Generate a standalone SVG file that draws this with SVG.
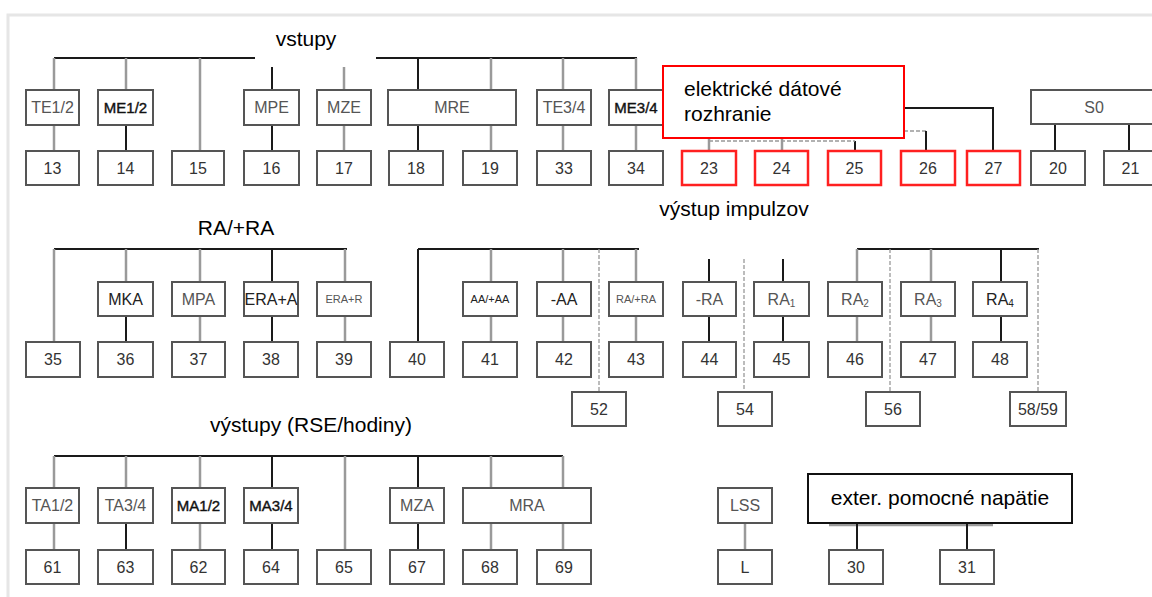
<svg xmlns="http://www.w3.org/2000/svg" width="1152" height="597" viewBox="0 0 1152 597">
<defs>
<style>
.bx{fill:#fff;stroke:#555;stroke-width:2}
.rb{fill:#fff;stroke:#ff2020;stroke-width:2.5}
.lb{font-family:"Liberation Sans",Arial,sans-serif;font-size:16px;fill:#555;text-anchor:middle;dominant-baseline:central}
.dk{fill:#222}
.bd{fill:#111;stroke:#111;stroke-width:0.4;font-size:15px}
.sm{font-size:11px}
.nm{font-family:"Liberation Sans",Arial,sans-serif;font-size:16px;fill:#333;text-anchor:middle;dominant-baseline:central}
.big{font-family:"Liberation Sans",Arial,sans-serif;font-size:21px;fill:#000}
.k{stroke:#1a1a1a;stroke-width:2;fill:none}
.g{stroke:#9a9a9a;stroke-width:2.5;fill:none}
.d{stroke:#999;stroke-width:1.3;stroke-dasharray:4 2;fill:none}
</style>
</defs>
<rect x="0" y="0" width="1152" height="597" fill="#fff"/>
<path d="M8 600 V15 H1160" stroke="#e6e6e6" stroke-width="3" fill="none"/>

<g id="connectors">
<path class="k" d="M54 58 H255 M376 58 H637"/>
<path class="g" d="M54 58 V90 M54 125 V151"/>
<path class="g" d="M126 58 V90"/><path class="k" d="M126 125 V151"/>
<path class="g" d="M200 58 V151"/>
<path class="k" d="M272 67 V90 M272 125 V151"/>
<path class="g" d="M344 67 V90 M344 125 V151"/>
<path class="k" d="M418 58 V90 M418 125 V151"/>
<path class="g" d="M491 58 V90 M491 125 V151"/>
<path class="g" d="M563 58 V90 M563 125 V151"/>
<path class="g" d="M636 58 V90 M636 125 V151"/>
<path class="g" d="M709 136 V151 M782 136 V151"/>
<path class="k" d="M855 141 V151"/>
<path class="d" d="M709 141 H855 M904 131 H926"/>
<path class="k" d="M926 131 V151"/>
<path class="k" d="M904 108 H993 V151"/>
<path class="k" d="M1055 124 V151 M1129 124 V151"/>
<path class="k" d="M54 249 H347"/>
<path class="g" d="M54 249 V342"/>
<path class="g" d="M126 249 V282"/><path class="k" d="M126 316 V342"/>
<path class="g" d="M200 249 V282 M200 316 V342"/>
<path class="k" d="M272 249 V282 M272 316 V342"/>
<path class="g" d="M345 249 V282 M345 316 V342"/>
<path class="k" d="M418 249 H639 M418 249 V342"/>
<path class="g" d="M491 249 V282 M491 316 V342"/>
<path class="g" d="M563 249 V282 M563 316 V342"/>
<path class="g" d="M636 249 V282 M636 316 V342"/>
<path class="k" d="M709 259 V282 M709 316 V342"/>
<path class="k" d="M783 259 V282 M783 316 V342"/>
<path class="k" d="M857 249 H1039"/>
<path class="g" d="M857 249 V282 M857 316 V342"/>
<path class="g" d="M931 249 V282 M931 316 V342"/>
<path class="k" d="M1001 249 V282 M1001 316 V342"/>
<path class="d" d="M599 249 V392 M744 259 V392 M890 249 V392 M1038 249 V392"/>
<path class="k" d="M54 456 H563"/>
<path class="g" d="M54 456 V488 M54 523 V550"/>
<path class="g" d="M126 456 V488"/><path class="k" d="M126 523 V550"/>
<path class="g" d="M200 456 V488 M200 523 V550"/>
<path class="k" d="M272 456 V488 M272 523 V550"/>
<path class="g" d="M345 456 V550"/>
<path class="k" d="M418 456 V488 M418 523 V550"/>
<path class="g" d="M491 456 V488 M491 523 V550"/>
<path class="g" d="M563 456 V488 M563 523 V550"/>
<path class="g" d="M745 523 V550"/>
<path class="g" d="M829 525 H993"/>
<path class="k" d="M857 523 V550 M967 523 V550"/>
</g>

<text class="big" x="306" y="46" text-anchor="middle">vstupy</text>
<text class="big" x="236" y="235" text-anchor="middle" fill="#333">RA/+RA</text>
<text class="big" x="311" y="432" text-anchor="middle">výstupy (RSE/hodiny)</text>

<g id="n-te12"><rect class="bx" x="26" y="90" width="53" height="35"/><text class="lb" x="52.5" y="107.5">TE1/2</text></g>
<g id="n-me12"><rect class="bx" x="98" y="90" width="55" height="35"/><text class="lb bd" x="125.5" y="107.5">ME1/2</text></g>
<g id="n-mpe"><rect class="bx" x="244" y="90" width="55" height="35"/><text class="lb" x="271.5" y="107.5">MPE</text></g>
<g id="n-mze"><rect class="bx" x="317" y="90" width="54" height="35"/><text class="lb" x="344" y="107.5">MZE</text></g>
<g id="n-mre"><rect class="bx" x="388" y="90" width="128" height="35"/><text class="lb" x="452" y="107.5">MRE</text></g>
<g id="n-te34"><rect class="bx" x="537" y="90" width="54" height="35"/><text class="lb" x="564" y="107.5">TE3/4</text></g>
<g id="n-me34"><rect class="bx" x="609" y="90" width="54" height="35"/><text class="lb bd" x="636" y="107.5">ME3/4</text></g>
<g id="n-s0"><rect class="bx" x="1031" y="90" width="127" height="34"/><text class="lb" x="1094" y="107">S0</text></g>
<g id="n-13"><rect class="bx" x="26" y="151" width="53" height="34"/><text class="nm" x="52.5" y="168">13</text></g>
<g id="n-14"><rect class="bx" x="98" y="151" width="55" height="34"/><text class="nm" x="125.5" y="168">14</text></g>
<g id="n-15"><rect class="bx" x="172" y="151" width="52" height="34"/><text class="nm" x="198" y="168">15</text></g>
<g id="n-16"><rect class="bx" x="244" y="151" width="55" height="34"/><text class="nm" x="271.5" y="168">16</text></g>
<g id="n-17"><rect class="bx" x="317" y="151" width="54" height="34"/><text class="nm" x="344" y="168">17</text></g>
<g id="n-18"><rect class="bx" x="389" y="151" width="54" height="34"/><text class="nm" x="416" y="168">18</text></g>
<g id="n-19"><rect class="bx" x="463" y="151" width="54" height="34"/><text class="nm" x="490" y="168">19</text></g>
<g id="n-33"><rect class="bx" x="537" y="151" width="54" height="34"/><text class="nm" x="564" y="168">33</text></g>
<g id="n-34"><rect class="bx" x="609" y="151" width="54" height="34"/><text class="nm" x="636" y="168">34</text></g>
<g id="n-23"><rect class="rb" x="682" y="151" width="54" height="34"/><text class="nm" x="709" y="168">23</text></g>
<g id="n-24"><rect class="rb" x="755" y="151" width="53" height="34"/><text class="nm" x="781.5" y="168">24</text></g>
<g id="n-25"><rect class="rb" x="828" y="151" width="53" height="34"/><text class="nm" x="854.5" y="168">25</text></g>
<g id="n-26"><rect class="rb" x="901" y="151" width="54" height="34"/><text class="nm" x="928" y="168">26</text></g>
<g id="n-27"><rect class="rb" x="967" y="151" width="53" height="34"/><text class="nm" x="993.5" y="168">27</text></g>
<g id="n-20"><rect class="bx" x="1031" y="151" width="54" height="34"/><text class="nm" x="1058" y="168">20</text></g>
<g id="n-21"><rect class="bx" x="1104" y="151" width="53" height="34"/><text class="nm" x="1130.5" y="168">21</text></g>

<rect x="640" y="187" width="217" height="36" fill="#fff"/>
<text class="big" x="734" y="216" text-anchor="middle">výstup impulzov</text>

<g id="n-elektricke"><rect x="663" y="66" width="241" height="72" fill="#fff" stroke="#f00" stroke-width="2"/><text class="big" x="684" y="96">elektrické dátové</text><text class="big" x="684" y="121">rozhranie</text></g>

<g id="n-mka"><rect class="bx" x="98" y="282" width="55" height="34"/><text class="lb dk" x="125.5" y="299">MKA</text></g>
<g id="n-mpa"><rect class="bx" x="172" y="282" width="53" height="34"/><text class="lb" x="198.5" y="299">MPA</text></g>
<g id="n-eraa"><rect class="bx" x="244" y="282" width="54" height="34"/><text class="lb dk" x="271" y="299" font-size="14">ERA+A</text></g>
<g id="n-erar"><rect class="bx" x="317" y="282" width="54" height="34"/><text class="lb sm" x="344" y="299">ERA+R</text></g>
<g id="n-aa"><rect class="bx" x="463" y="282" width="54" height="34"/><text class="lb sm dk" x="490" y="299">AA/+AA</text></g>
<g id="n-maa"><rect class="bx" x="537" y="282" width="54" height="34"/><text class="lb dk" x="564" y="299">-AA</text></g>
<g id="n-rara"><rect class="bx" x="609" y="282" width="54" height="34"/><text class="lb sm" x="636" y="299">RA/+RA</text></g>
<g id="n-mra"><rect class="bx" x="683" y="282" width="53" height="34"/><text class="lb" x="709.5" y="299">-RA</text></g>
<g id="n-ra1"><rect class="bx" x="754" y="282" width="55" height="34"/><text class="lb" x="781.5" y="299">RA<tspan font-size="10" dy="4">1</tspan></text></g>
<g id="n-ra2"><rect class="bx" x="828" y="282" width="54" height="34"/><text class="lb" x="855" y="299">RA<tspan font-size="10" dy="4">2</tspan></text></g>
<g id="n-ra3"><rect class="bx" x="901" y="282" width="54" height="34"/><text class="lb" x="928" y="299">RA<tspan font-size="10" dy="4">3</tspan></text></g>
<g id="n-ra4"><rect class="bx" x="973" y="282" width="54" height="34"/><text class="lb dk" x="1000" y="299">RA<tspan font-size="10" dy="4">4</tspan></text></g>
<g id="n-35"><rect class="bx" x="26" y="342" width="54" height="35"/><text class="nm" x="53" y="359.5">35</text></g>
<g id="n-36"><rect class="bx" x="98" y="342" width="55" height="35"/><text class="nm" x="125.5" y="359.5">36</text></g>
<g id="n-37"><rect class="bx" x="172" y="342" width="53" height="35"/><text class="nm" x="198.5" y="359.5">37</text></g>
<g id="n-38"><rect class="bx" x="244" y="342" width="54" height="35"/><text class="nm" x="271" y="359.5">38</text></g>
<g id="n-39"><rect class="bx" x="317" y="342" width="54" height="35"/><text class="nm" x="344" y="359.5">39</text></g>
<g id="n-40"><rect class="bx" x="390" y="342" width="54" height="35"/><text class="nm" x="417" y="359.5">40</text></g>
<g id="n-41"><rect class="bx" x="463" y="342" width="54" height="35"/><text class="nm" x="490" y="359.5">41</text></g>
<g id="n-42"><rect class="bx" x="537" y="342" width="54" height="35"/><text class="nm" x="564" y="359.5">42</text></g>
<g id="n-43"><rect class="bx" x="609" y="342" width="54" height="35"/><text class="nm" x="636" y="359.5">43</text></g>
<g id="n-44"><rect class="bx" x="683" y="342" width="53" height="35"/><text class="nm" x="709.5" y="359.5">44</text></g>
<g id="n-45"><rect class="bx" x="754" y="342" width="55" height="35"/><text class="nm" x="781.5" y="359.5">45</text></g>
<g id="n-46"><rect class="bx" x="828" y="342" width="54" height="35"/><text class="nm" x="855" y="359.5">46</text></g>
<g id="n-47"><rect class="bx" x="901" y="342" width="54" height="35"/><text class="nm" x="928" y="359.5">47</text></g>
<g id="n-48"><rect class="bx" x="973" y="342" width="54" height="35"/><text class="nm" x="1000" y="359.5">48</text></g>
<g id="n-52"><rect class="bx" x="572" y="392" width="54" height="34"/><text class="nm" x="599" y="409">52</text></g>
<g id="n-54"><rect class="bx" x="718" y="392" width="54" height="34"/><text class="nm" x="745" y="409">54</text></g>
<g id="n-56"><rect class="bx" x="866" y="392" width="54" height="34"/><text class="nm" x="893" y="409">56</text></g>
<g id="n-5859"><rect class="bx" x="1010" y="392" width="56" height="34"/><text class="nm" x="1038" y="409">58/59</text></g>

<g id="n-ta12"><rect class="bx" x="26" y="488" width="53" height="35"/><text class="lb" x="52.5" y="505.5">TA1/2</text></g>
<g id="n-ta34"><rect class="bx" x="98" y="488" width="55" height="35"/><text class="lb" x="125.5" y="505.5">TA3/4</text></g>
<g id="n-ma12"><rect class="bx" x="172" y="488" width="53" height="35"/><text class="lb bd" x="198.5" y="505.5">MA1/2</text></g>
<g id="n-ma34"><rect class="bx" x="244" y="488" width="54" height="35"/><text class="lb bd" x="271" y="505.5" font-size="14">MA3/4</text></g>
<g id="n-mza"><rect class="bx" x="390" y="488" width="54" height="35"/><text class="lb" x="417" y="505.5">MZA</text></g>
<g id="n-mra2"><rect class="bx" x="463" y="488" width="128" height="35"/><text class="lb" x="527" y="505.5">MRA</text></g>
<g id="n-lss"><rect class="bx" x="718" y="488" width="54" height="35"/><text class="lb" x="745" y="505.5">LSS</text></g>
<g id="n-61"><rect class="bx" x="26" y="550" width="53" height="34"/><text class="nm" x="52.5" y="567">61</text></g>
<g id="n-63"><rect class="bx" x="98" y="550" width="55" height="34"/><text class="nm" x="125.5" y="567">63</text></g>
<g id="n-62"><rect class="bx" x="172" y="550" width="53" height="34"/><text class="nm" x="198.5" y="567">62</text></g>
<g id="n-64"><rect class="bx" x="244" y="550" width="54" height="34"/><text class="nm" x="271" y="567">64</text></g>
<g id="n-65"><rect class="bx" x="317" y="550" width="54" height="34"/><text class="nm" x="344" y="567">65</text></g>
<g id="n-67"><rect class="bx" x="390" y="550" width="54" height="34"/><text class="nm" x="417" y="567">67</text></g>
<g id="n-68"><rect class="bx" x="463" y="550" width="54" height="34"/><text class="nm" x="490" y="567">68</text></g>
<g id="n-69"><rect class="bx" x="537" y="550" width="54" height="34"/><text class="nm" x="564" y="567">69</text></g>
<g id="n-l"><rect class="bx" x="718" y="550" width="54" height="34"/><text class="nm" x="745" y="567">L</text></g>
<g id="n-30"><rect class="bx" x="829" y="550" width="54" height="34"/><text class="nm" x="856" y="567">30</text></g>
<g id="n-31"><rect class="bx" x="940" y="550" width="54" height="34"/><text class="nm" x="967" y="567">31</text></g>

<g id="n-exter"><rect x="808" y="474" width="264" height="49" fill="#fff" stroke="#111" stroke-width="2"/><text class="big" x="940" y="505" text-anchor="middle">exter. pomocné napätie</text></g>
</svg>
